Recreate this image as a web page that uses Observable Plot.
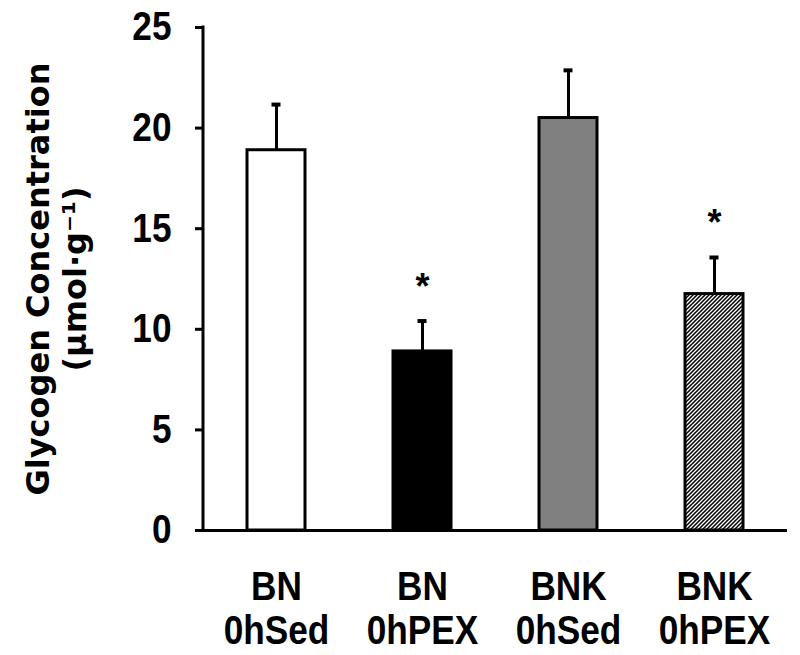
<!DOCTYPE html>
<html>
<head>
<meta charset="utf-8">
<script src="https://cdn.jsdelivr.net/npm/d3@7"></script>
<script src="https://cdn.jsdelivr.net/npm/@observablehq/plot@0.6"></script>
<style>
  html, body { margin: 0; padding: 0; background: #fff; }
</style>
</head>
<body>
<div id="chart"></div>
<script>
// ---- data ----
const strains = ["BN", "BN", "BNK", "BNK"];
const conditions = ["0hSed", "0hPEX", "0hSed", "0hPEX"];
const means = [18.9, 8.9, 20.5, 11.75];
const errors = [2.27, 1.51, 2.37, 1.82];
const significant = [false, true, false, true];
const yTicks = [0, 5, 10, 15, 20, 25];
const titleLines = ["Glycogen Concentration", "(µmol·g⁻¹)"];
// styles (kept apart from values)
const barFills = ["white", "black", "#808080", "url(#hatch)"];

const categories = strains.map((s, i) => s + "\n" + conditions[i]);
const rows = categories.map((c, i) => ({
  cat: c, mean: means[i], err: errors[i], top: means[i] + errors[i],
  sig: significant[i], fill: barFills[i]
}));

// defs (hatch pattern) + left axis line, drawn from Plot's own scales/dimensions
function extras(index, scales, values, dims) {
  const g = d3.create("svg:g");
  const pat = g.append("defs").append("pattern")
    .attr("id", "hatch").attr("patternUnits", "userSpaceOnUse")
    .attr("width", 4).attr("height", 4);
  pat.append("rect").attr("width", 4).attr("height", 4).attr("fill", "white");
  pat.append("path").attr("d", "M-1,1 l2,-2 M0,4 l4,-4 M3,5 l2,-2")
    .attr("stroke", "black").attr("stroke-width", 1.5);
  const x0 = dims.marginLeft;
  g.append("line")
    .attr("x1", x0).attr("x2", x0)
    .attr("y1", scales.y(d3.max(yTicks)) - 1.5)
    .attr("y2", dims.height - dims.marginBottom + 1.5)
    .attr("stroke", "black").attr("stroke-width", 3);
  return g.node();
}

const sans = "'Liberation Sans', Arial, sans-serif";

const chart = Plot.plot({
  width: 800,
  height: 655,
  marginLeft: 203,
  marginRight: 13,
  marginTop: 27,
  marginBottom: 125,
  style: { fontFamily: sans, fontWeight: "bold", background: "white", color: "black" },
  x: { domain: categories, paddingInner: 0.6, paddingOuter: 0.3, axis: null },
  y: { domain: [0, 25], axis: null },
  color: { type: "identity" },
  marks: [
    extras,
    Plot.ruleX(rows, { x: "cat", y1: "mean", y2: "top", stroke: "black", strokeWidth: 3 }),
    Plot.tickY(rows, { x: "cat", y: "top", stroke: "black", strokeWidth: 4, insetLeft: 24.5, insetRight: 24.5 }),
    Plot.barY(rows, { x: "cat", y: "mean", fill: "fill", stroke: "black", strokeWidth: 3 }),
    Plot.ruleY([0], { stroke: "black", strokeWidth: 3 }),
    Plot.text(rows.filter(d => d.sig), {
      x: "cat", y: "top", text: () => "*", dy: -34, fontSize: 36,
      fontFamily: sans, fontWeight: "bold", fill: "black"
    }),
    Plot.axisY({ ticks: yTicks, tickSize: 8, tickPadding: 24, fontSize: 40, strokeWidth: 3, label: null }),
    Plot.axisX({ tickSize: 0, tickPadding: 38, fontSize: 40, lineHeight: 1.1, label: null }),
    Plot.text([titleLines.join("\n")], {
      text: d => d, frameAnchor: "left", rotate: -90, dx: -148, fontSize: 32,
      fontFamily: "'DejaVu Sans', sans-serif", fontWeight: "bold", lineHeight: 1.18,
      textAnchor: "middle", fill: "black"
    })
  ]
});

// the reference lettering is slightly condensed horizontally
d3.select(chart)
  .selectAll("g[aria-label='x-axis tick label'] text, g[aria-label='y-axis tick label'] text")
  .each(function () {
    const t = this.getAttribute("transform") || "";
    this.setAttribute("transform", t + " scale(0.88,1)");
  });

document.getElementById("chart").appendChild(chart);
</script>
</body>
</html>
